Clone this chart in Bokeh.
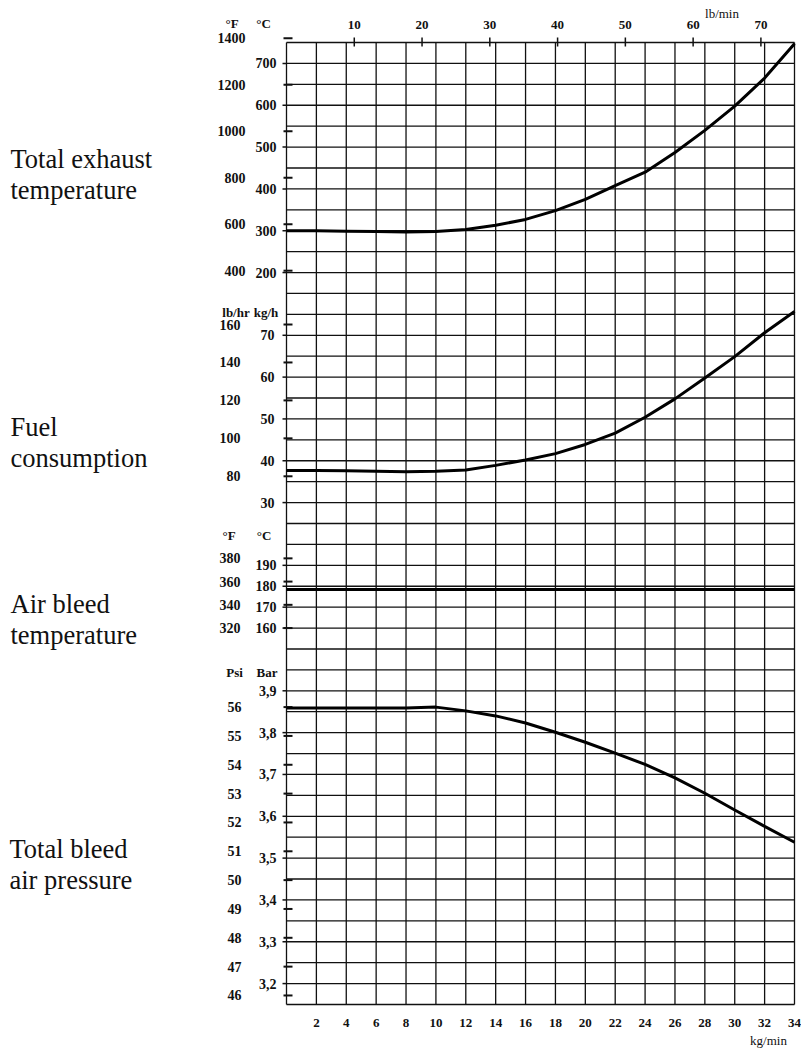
from bokeh.plotting import figure
from bokeh.models import Range1d
from bokeh.core.properties import value
from bokeh.embed import file_html
from bokeh.resources import INLINE

# ---------------- data ----------------
mass_flow_kg_min = [0, 2, 4, 6, 8, 10, 12, 14, 16, 18, 20, 22, 24, 26, 28, 30, 32, 34]
exhaust_temp_c = [300, 300, 299, 298, 297, 298, 303, 313, 327, 348, 375, 408, 440, 487, 540, 598, 665, 747]
fuel_kg_h = [37.7, 37.7, 37.6, 37.5, 37.4, 37.5, 37.8, 38.9, 40.2, 41.7, 43.9, 46.6, 50.4, 54.8, 59.8, 64.9, 70.6, 75.7]
air_bleed_temp_c = [178.5, 178.5, 178.5, 178.5, 178.5, 178.5, 178.5, 178.5, 178.5,
                    178.5, 178.5, 178.5, 178.5, 178.5, 178.5, 178.5, 178.5, 178.5]
bleed_pressure_bar = [3.859, 3.859, 3.859, 3.859, 3.859, 3.861, 3.852, 3.840, 3.823, 3.801,
                      3.777, 3.751, 3.724, 3.692, 3.655, 3.615, 3.576, 3.538]

exh_c_ticks = [200, 300, 400, 500, 600, 700]
exh_f_ticks = [400, 600, 800, 1000, 1200, 1400]
fuel_kgh_ticks = [30, 40, 50, 60, 70]
fuel_lbh_ticks = [80, 100, 120, 140, 160]
air_c_ticks = [160, 170, 180, 190]
air_f_ticks = [320, 340, 360, 380]
bar_ticks = [3.2, 3.3, 3.4, 3.5, 3.6, 3.7, 3.8, 3.9]
bar_tick_labels = ["3,2", "3,3", "3,4", "3,5", "3,6", "3,7", "3,8", "3,9"]
psi_ticks = [46, 47, 48, 49, 50, 51, 52, 53, 54, 55, 56]
kg_min_ticks = [2, 4, 6, 8, 10, 12, 14, 16, 18, 20, 22, 24, 26, 28, 30, 32, 34]
lb_min_ticks = [10, 20, 30, 40, 50, 60, 70]

section_titles = [
    ["Total exhaust", "temperature"],
    ["Fuel", "consumption"],
    ["Air bleed", "temperature"],
    ["Total bleed", "air pressure"],
]

LB_PER_KG = 2.20462
PSI_PER_BAR = 14.5038

# ---------------- layout ----------------
W, H = 801, 1050
KG_PER_PX = 34 / 508.0        # grid is 508 px wide for 0..34 kg/min
U_PER_PX = 46 / 962.0         # 46 grid rows over 962 px
GRID_LEFT_PX, GRID_TOP_PX = 286, 42
X0 = -GRID_LEFT_PX * KG_PER_PX
X1 = X0 + W * KG_PER_PX
Y1 = 46 + GRID_TOP_PX * U_PER_PX
Y0 = Y1 - H * U_PER_PX


def px(cx, cy):
    """canvas pixel -> primary data coordinates (layout helper for text)"""
    return X0 + cx * KG_PER_PX, Y1 - cy * U_PER_PX


def lin(a, g0, step):
    return lambda g: a + (g - g0) * step


exh_c = lin(300, 37, 50)
fuel_k = lin(30, 24, 5)
air_c = lin(160, 18, 10)
bar_f = lin(3.2, 1, 0.05)

p = figure(width=W, height=H, x_range=Range1d(X0, X1), y_range=Range1d(Y0, Y1),
           output_backend="svg", toolbar_location=None,
           x_axis_location=None, y_axis_location=None, min_border=0)
p.min_border_left = p.min_border_right = p.min_border_top = p.min_border_bottom = 0
p.outline_line_color = None
p.grid.visible = False
p.title.visible = False
p.background_fill_color = "white"
p.border_fill_color = "white"

p.extra_y_ranges = {
    "exhC": Range1d(exh_c(Y0), exh_c(Y1)),
    "exhF": Range1d(exh_c(Y0) * 1.8 + 32, exh_c(Y1) * 1.8 + 32),
    "fuelK": Range1d(fuel_k(Y0), fuel_k(Y1)),
    "fuelL": Range1d(fuel_k(Y0) * LB_PER_KG, fuel_k(Y1) * LB_PER_KG),
    "airC": Range1d(air_c(Y0), air_c(Y1)),
    "airF": Range1d(air_c(Y0) * 1.8 + 32, air_c(Y1) * 1.8 + 32),
    "bar": Range1d(bar_f(Y0), bar_f(Y1)),
    "psi": Range1d(bar_f(Y0) * PSI_PER_BAR, bar_f(Y1) * PSI_PER_BAR),
}
p.extra_x_ranges = {"lbmin": Range1d(X0 * LB_PER_KG, X1 * LB_PER_KG)}

INK = "#111111"
FONT = value("Liberation Serif")

# ---------------- grid ----------------
vx = list(range(0, 35, 2))
p.segment(x0=vx, x1=vx, y0=[0] * len(vx), y1=[46] * len(vx), line_color=INK, line_width=1.3)
hy = list(range(0, 47))
p.segment(x0=[0] * len(hy), x1=[34] * len(hy), y0=hy, y1=hy, line_color=INK, line_width=1.3)

# ---------------- left scales ----------------
OUT0, OUT1 = -4 * KG_PER_PX, 0
IN0, IN1 = -3 * KG_PER_PX, 6 * KG_PER_PX


def ticks_and_labels(vals, labels, rng, kind, label_dx):
    n = len(vals)
    if kind == "out":
        p.segment(x0=[OUT0] * n, x1=[OUT1] * n, y0=vals, y1=vals, y_range_name=rng,
                  line_color=INK, line_width=1.5)
    else:
        p.segment(x0=[IN0] * n, x1=[IN1] * n, y0=vals, y1=vals, y_range_name=rng,
                  line_color=INK, line_width=2)
    p.text(x=[0] * n, y=vals, text=labels, y_range_name=rng, x_offset=label_dx,
           text_font=FONT, text_font_size="14px", text_font_style="bold",
           text_align="right", text_baseline="middle", text_color=INK)


ticks_and_labels(exh_c_ticks, [str(v) for v in exh_c_ticks], "exhC", "out", -10)
ticks_and_labels(exh_f_ticks, [str(v) for v in exh_f_ticks], "exhF", "in", -41)
ticks_and_labels(fuel_kgh_ticks, [str(v) for v in fuel_kgh_ticks], "fuelK", "out", -12)
ticks_and_labels(fuel_lbh_ticks, [str(v) for v in fuel_lbh_ticks], "fuelL", "in", -46)
ticks_and_labels(air_c_ticks, [str(v) for v in air_c_ticks], "airC", "out", -10)
ticks_and_labels(air_f_ticks, [str(v) for v in air_f_ticks], "airF", "in", -46)
ticks_and_labels(bar_ticks, bar_tick_labels, "bar", "out", -10)
ticks_and_labels(psi_ticks, [str(v) for v in psi_ticks], "psi", "in", -45)

# unit headers (canvas pixel positions)
headers = [("°F", 231.5, 23), ("°C", 263, 23),
           ("lb/hr", 235.5, 312), ("kg/h", 265.5, 312),
           ("°F", 228.5, 535), ("°C", 263.5, 535),
           ("Psi", 234, 672), ("Bar", 266.5, 672)]
hx, hyy = zip(*[px(cx, cy) for _, cx, cy in headers])
p.text(x=list(hx), y=list(hyy), text=[h[0] for h in headers], text_font=FONT,
       text_font_size="13px", text_font_style="bold", text_align="center",
       text_baseline="middle", text_color=INK)

# section titles
title_pos = [(10, 158, 189), (10, 426, 457), (10, 603, 634), (9, 848, 879)]
tx, ty, tt = [], [], []
for (cx, b1, b2), lines in zip(title_pos, section_titles):
    for b, line in zip((b1, b2), lines):
        xx, yy = px(cx, b)
        tx.append(xx)
        ty.append(yy)
        tt.append(line)
p.text(x=tx, y=ty, text=tt, text_font=FONT, text_font_size="26.5px",
       text_align="left", text_baseline="alphabetic", text_color=INK)

# ---------------- top (lb/min) scale ----------------
n = len(lb_min_ticks)
p.segment(x0=lb_min_ticks, x1=lb_min_ticks, y0=[46 + 5 * U_PER_PX] * n, y1=[46 - 4 * U_PER_PX] * n,
          x_range_name="lbmin", line_color=INK, line_width=1.5)
p.text(x=lb_min_ticks, y=[46] * n, text=[str(v) for v in lb_min_ticks], x_range_name="lbmin",
       y_offset=-18, text_font=FONT, text_font_size="13px", text_font_style="bold",
       text_align="center", text_baseline="middle", text_color=INK)
lx, ly = px(721.5, 13)
p.text(x=[lx], y=[ly], text=["lb/min"], text_font=FONT, text_font_size="13px",
       text_align="center", text_baseline="middle", text_color=INK)

# ---------------- bottom (kg/min) scale ----------------
n = len(kg_min_ticks)
p.text(x=kg_min_ticks, y=[0] * n, text=[str(v) for v in kg_min_ticks], y_offset=18,
       text_font=FONT, text_font_size="13px", text_font_style="bold",
       text_align="center", text_baseline="middle", text_color=INK)
kx, ky = px(768, 1040)
p.text(x=[kx], y=[ky], text=["kg/min"], text_font=FONT, text_font_size="13px",
       text_align="center", text_baseline="middle", text_color=INK)

# ---------------- curves ----------------
p.line(mass_flow_kg_min, exhaust_temp_c, y_range_name="exhC", line_color="black", line_width=3)
p.line(mass_flow_kg_min, fuel_kg_h, y_range_name="fuelK", line_color="black", line_width=3)
p.line(mass_flow_kg_min, air_bleed_temp_c, y_range_name="airC", line_color="black", line_width=3)
p.line(mass_flow_kg_min, bleed_pressure_bar, y_range_name="bar", line_color="black", line_width=3)

open("out.html", "w").write(file_html(p, INLINE))
